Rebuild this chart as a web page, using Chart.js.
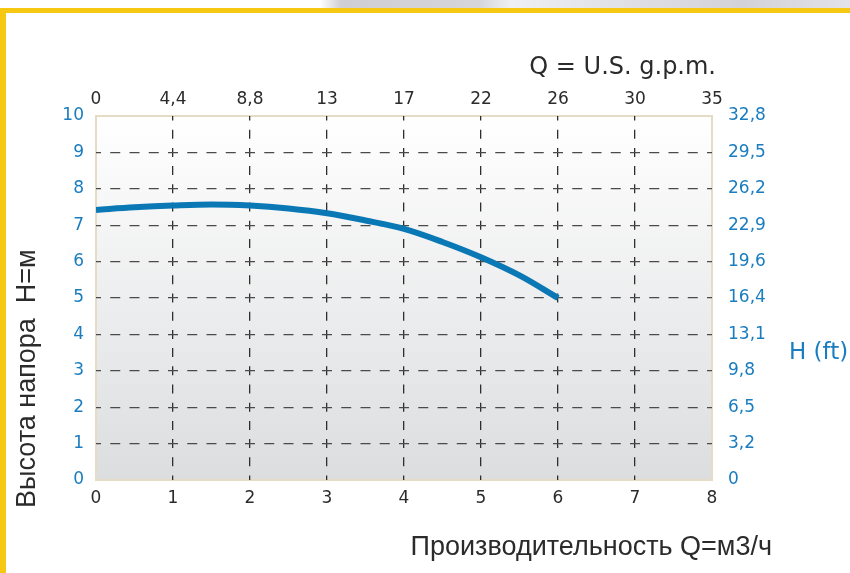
<!DOCTYPE html>
<html>
<head>
<meta charset="utf-8">
<script src="https://cdn.jsdelivr.net/npm/chart.js@4"></script>
<style>
  body { margin: 0; background: #fff; }
  canvas { display: block; }
</style>
</head>
<body>
<canvas id="pumpChart" width="850" height="573"></canvas>
<script>
// flow in m3/h and head in metres
const flowM3h = [0, 0.5, 1, 1.5, 2, 2.5, 3, 3.5, 4, 4.5, 5, 5.5, 6];
const headM = [7.42, 7.49, 7.54, 7.57, 7.54, 7.46, 7.33, 7.13, 6.9, 6.54, 6.12, 5.62, 5.0];

// secondary scale labels
const gpmLabels = ['0', '4,4', '8,8', '13', '17', '22', '26', '30', '35'];
const ftLabels = ['0', '3,2', '6,5', '9,8', '13,1', '16,4', '19,6', '22,9', '26,2', '29,5', '32,8'];

const blue = '#1a7dbf';
const dark = '#2b2b2b';
const tickFont = { family: 'DejaVu Sans', size: 17 };

const points = flowM3h.map((q, i) => ({ x: q, y: headM[i] }));

// background, frame and titles
const decor = {
  id: 'decor',
  beforeDraw(chart) {
    const c = chart.ctx;
    const a = chart.chartArea;
    c.save();
    c.fillStyle = '#fff';
    c.fillRect(0, 0, chart.width, chart.height);
    // greyish strip above the yellow frame
    let g = c.createLinearGradient(320, 0, 850, 0);
    g.addColorStop(0, '#ffffff');
    g.addColorStop(0.04, '#cfcfd3');
    g.addColorStop(0.3, '#d6d6da');
    g.addColorStop(0.36, '#eef0f3');
    g.addColorStop(0.6, '#dedee4');
    g.addColorStop(0.8, '#d2d2d8');
    g.addColorStop(1, '#e2e2e8');
    c.fillStyle = g;
    c.fillRect(320, 0, 530, 8);
    // yellow frame
    c.fillStyle = '#f6c812';
    c.fillRect(0, 8, chart.width, 5);
    c.fillRect(0, 8, 6, chart.height);
    // plot gradient
    g = c.createLinearGradient(0, a.top, 0, a.bottom);
    g.addColorStop(0, '#ffffff');
    g.addColorStop(1, '#dcdddf');
    c.fillStyle = g;
    c.fillRect(a.left, a.top, a.right - a.left, a.bottom - a.top);
    c.strokeStyle = '#e4dcc4';
    c.lineWidth = 2;
    c.strokeRect(a.left, a.top, a.right - a.left, a.bottom - a.top);
    c.restore();
  },
  afterDraw(chart) {
    const c = chart.ctx;
    c.save();
    c.fillStyle = dark;
    c.textBaseline = 'alphabetic';
    c.font = '24px "DejaVu Sans"';
    c.textAlign = 'right';
    c.fillText('Q = U.S. g.p.m.', 716, 74);
    c.font = '27px "Liberation Sans Narrow", "Liberation Sans"';
    c.fillText('Производительность Q=м3/ч', 772, 555);
    c.fillStyle = blue;
    c.textAlign = 'left';
    c.font = '23px "DejaVu Sans"';
    c.fillText('H (ft)', 789, 359);
    c.fillStyle = dark;
    c.translate(35, 508);
    c.rotate(-Math.PI / 2);
    c.font = '27px "Liberation Sans Narrow", "Liberation Sans"';
    c.fillText('Высота напора  H=м', 0, 0);
    c.restore();
  }
};

const edgeHidden = (lo, hi, col) => ctx =>
  (ctx.tick && (ctx.tick.value === lo || ctx.tick.value === hi)) ? 'rgba(0,0,0,0)' : col;

new Chart(document.getElementById('pumpChart'), {
  type: 'line',
  data: {
    datasets: [{
      data: points,
      borderColor: '#0b78b6',
      borderWidth: 6,
      pointRadius: 0,
      tension: 0.35,
      fill: false
    }]
  },
  options: {
    responsive: false,
    animation: false,
    layout: { padding: 0 },
    plugins: { legend: { display: false }, tooltip: { enabled: false } },
    scales: {
      x: {
        type: 'linear', position: 'bottom', min: 0, max: 8,
        afterFit(s) { s.height = 93; },
        ticks: { stepSize: 1, color: dark, font: tickFont, padding: 8 },
        grid: { color: edgeHidden(0, 8, '#2e2e2e'), lineWidth: 1.3, drawTicks: false },
        border: { display: false, dash: [9, 9.2], dashOffset: 4.5 }
      },
      x2: {
        type: 'linear', position: 'top', min: 0, max: 8,
        afterFit(s) { s.height = 116; },
        ticks: { stepSize: 1, color: dark, font: tickFont, padding: 6,
          callback: v => gpmLabels[v] },
        grid: { display: false, drawTicks: false },
        border: { display: false }
      },
      y: {
        type: 'linear', position: 'left', min: 0, max: 10,
        afterFit(s) { s.width = 96; },
        ticks: { stepSize: 1, color: blue, font: tickFont, padding: 12 },
        grid: { color: edgeHidden(0, 10, '#4a4a4a'), lineWidth: 1.3, drawTicks: false },
        border: { display: false, dash: [10, 9.25], dashOffset: 5 }
      },
      y2: {
        type: 'linear', position: 'right', min: 0, max: 10,
        afterFit(s) { s.width = 138; },
        ticks: { stepSize: 1, color: blue, font: tickFont, padding: 16,
          callback: v => ftLabels[v] },
        grid: { display: false, drawTicks: false },
        border: { display: false }
      }
    }
  },
  plugins: [decor]
});
</script>
</body>
</html>
